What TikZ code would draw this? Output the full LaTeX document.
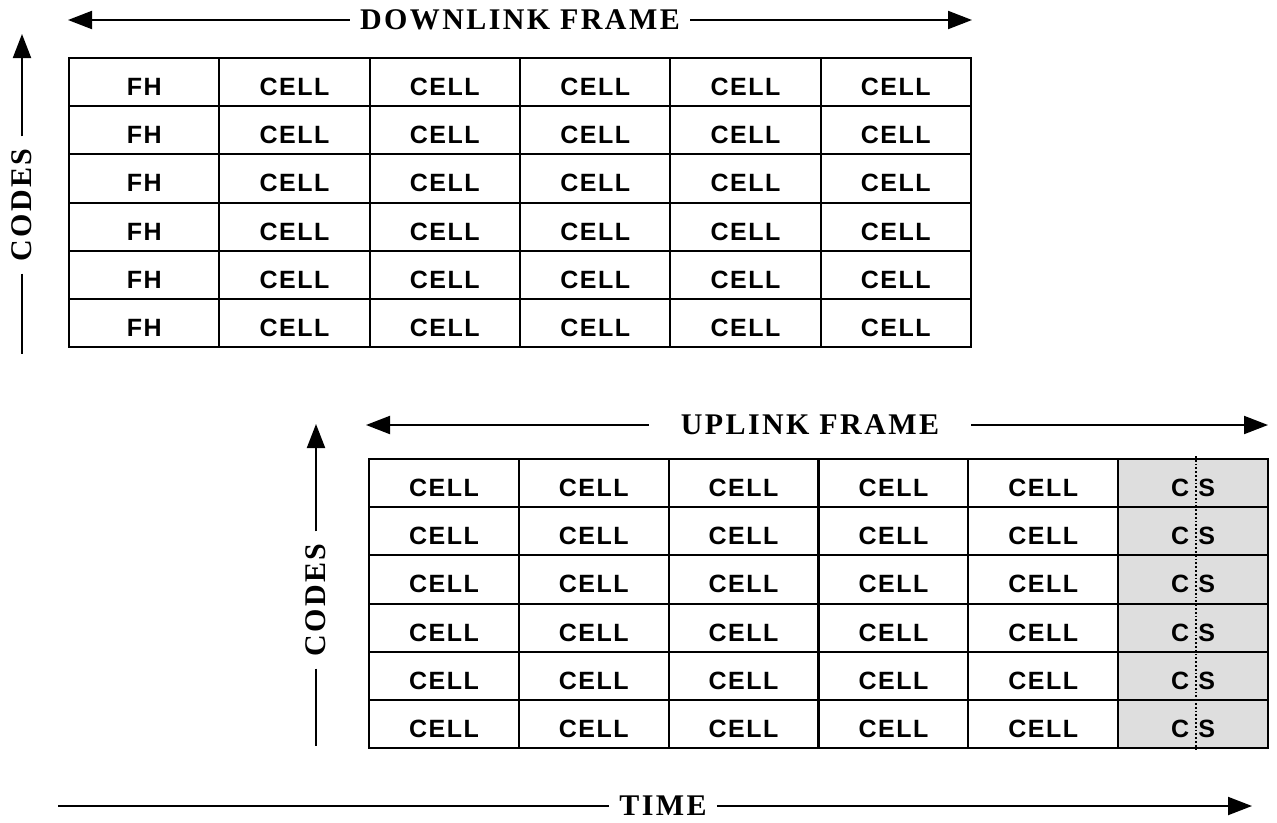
\documentclass[tikz,border=0pt]{standalone}
\usepackage{fontspec}
\setmainfont{Liberation Serif}
\newfontfamily\cellfont[LetterSpace=6]{Liberation Sans}
\newfontfamily\labfont[LetterSpace=8]{Liberation Serif}
\usetikzlibrary{arrows.meta}
\definecolor{csgray}{gray}{0.87}
\tikzset{
  cellbox/.style={draw, line width=2pt, minimum width=#1, minimum height=48.17pt, inner sep=0pt,
    text height=27pt, text depth=0pt,
    font=\cellfont\bfseries\fontsize{25}{25}\selectfont, anchor=north west},
  lab/.style={font=\labfont\bfseries\fontsize{30}{30}\selectfont, inner sep=10pt},
  arr/.style={line width=2pt, -{Triangle[length=24pt,width=18pt]}},
  plain/.style={line width=2pt}
}
\begin{document}
\begin{tikzpicture}[x=1pt,y=-1pt]
\useasboundingbox (0,0) rectangle (1277,822);
% downlink table
\foreach \r in {0,...,5}{
  \node[cellbox=150.33pt] (d-\r-0) at ({68+0*150.33},{57+\r*48.17}) {FH};
  \foreach \c in {1,...,5}{
    \node[cellbox=150.33pt] (d-\r-\c) at ({68+\c*150.33},{57+\r*48.17}) {CELL};
  }
}
% uplink table
\foreach \r in {0,...,5}{
  \foreach \c in {0,...,4}{
    \node[cellbox=149.83pt] (u-\r-\c) at ({368+\c*149.83},{458+\r*48.17}) {CELL};
  }
  \node[cellbox=149.83pt, fill=csgray] (u-\r-5) at ({368+5*149.83},{458+\r*48.17}) {C\hspace{9pt}S};
}
\coordinate (dtop) at (1196,456);
\coordinate (dbot) at (1196,752);
\draw[line width=1.8pt, dotted] (dtop) -- (dbot);
% downlink frame arrow
\node[lab] (dl) at (520,20) {DOWNLINK FRAME};
\coordinate (dlL) at (68,20);
\coordinate (dlR) at (972,20);
\draw[arr] (dl.west) -- (dlL);
\draw[arr] (dl.east) -- (dlR);
% uplink frame arrow
\node[lab] (ul) at (810,425) {UPLINK FRAME};
\coordinate (ulL) at (366,425);
\coordinate (ulR) at (1268,425);
\draw[arr] (ul.west) ++(-22pt,0) coordinate (ulw) -- (ulL);
\draw[arr] (ul.east) ++(22pt,0) coordinate (ule) -- (ulR);
% codes left
\node[lab, rotate=90, inner sep=12pt] (c1) at (22,205) {CODES};
\coordinate (c1T) at (22,34);
\coordinate (c1B) at (22,354);
\draw[arr] (c1.east) -- (c1T);
\draw[plain] (c1.west) -- (c1B);
% codes right
\node[lab, rotate=90, inner sep=12pt] (c2) at (316,600) {CODES};
\coordinate (c2T) at (316,424);
\coordinate (c2B) at (316,746);
\draw[arr] (c2.east) -- (c2T);
\draw[plain] (c2.west) -- (c2B);
% time
\node[lab] (tm) at (663,806) {TIME};
\coordinate (tL) at (58,806);
\coordinate (tR) at (1252,806);
\draw[plain] (tm.west) -- (tL);
\draw[arr] (tm.east) -- (tR);
\end{tikzpicture}
\end{document}
